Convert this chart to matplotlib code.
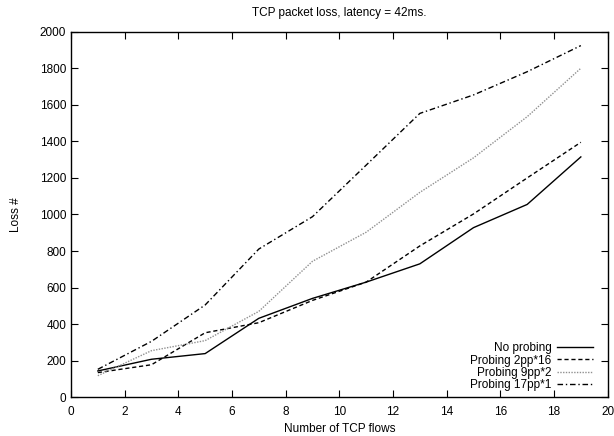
import numpy as np
import matplotlib
matplotlib.use("Agg")
import matplotlib.pyplot as plt

plt.rcParams['font.family'] = ['Liberation Sans', 'DejaVu Sans']

flows = [1, 3, 5, 7, 9, 11, 13, 15, 17, 19]
no_probing = [144, 208, 239, 432, 541, 630, 730, 928, 1055, 1315]
probing_2pp16 = [135, 178, 353, 408, 530, 630, 828, 1003, 1200, 1395]
probing_9pp2 = [118, 255, 310, 470, 744, 903, 1121, 1310, 1535, 1800]
probing_17pp1 = [153, 306, 505, 811, 988, 1270, 1553, 1654, 1781, 1924]

fig = plt.figure(figsize=(6.14, 4.36), dpi=100)
ax = fig.add_axes([0.1156, 0.0888, 0.8741, 0.8385])

ax.plot(flows, no_probing, color="black", lw=1.0, label="No probing")
ax.plot(flows, probing_2pp16, color="black", lw=1.0, linestyle=(0, (3, 2)), label="Probing 2pp*16")
ax.plot(flows, probing_9pp2, color="#909090", lw=1.0, linestyle=(0, (1, 1)), label="Probing 9pp*2")
ax.plot(flows, probing_17pp1, color="black", lw=1.0, linestyle=(0, (4, 2, 1, 2)), label="Probing 17pp*1")

ax.set_xlim(0, 20)
ax.set_ylim(0, 2000)
ax.set_xticks(np.arange(0, 21, 2))
ax.set_yticks(np.arange(0, 2001, 200))
ax.tick_params(direction="in", top=True, right=True, labelsize=8.5, length=5, width=0.8)
ax.tick_params(axis="x", pad=6)
for s in ax.spines.values():
    s.set_linewidth(1.0)

ax.set_xlabel("Number of TCP flows", fontsize=8.5, labelpad=4)
ax.set_ylabel("Loss #", fontsize=8.5, labelpad=13)
ax.set_title("TCP packet loss, latency = 42ms.", fontsize=8.5, pad=11)

ax.legend(loc="lower right", bbox_to_anchor=(0.981, 0.004), borderaxespad=0,
          frameon=False, markerfirst=False, fontsize=8.5,
          handlelength=3.0, labelspacing=0.02, handletextpad=0.5)

fig.savefig("out.png", dpi=100)
